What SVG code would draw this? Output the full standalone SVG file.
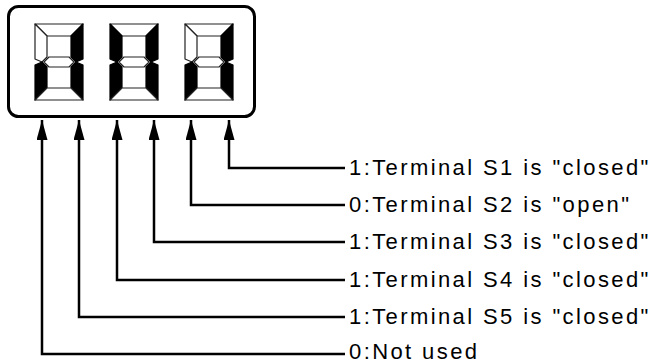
<svg xmlns="http://www.w3.org/2000/svg" width="657" height="364" viewBox="0 0 657 364">
<style>
.box{fill:#fff;stroke:#000;stroke-width:3}
.off{fill:#fff;stroke:#222;stroke-width:1.2;stroke-linejoin:round}
.on{fill:#000;stroke:#000;stroke-width:1.2;stroke-linejoin:round}
.wire{fill:none;stroke:#000;stroke-width:2.5}
.lbl{font-family:"Liberation Sans",Arial,sans-serif;font-size:22px;letter-spacing:2.4px;fill:#000}
</style>
<defs>
<marker id="ah" viewBox="0 0 20 11" refX="20" refY="5.5" markerWidth="20" markerHeight="11" markerUnits="userSpaceOnUse" orient="auto">
<path d="M0,0 L20,5.5 L0,11 z" fill="#000"/>
</marker>
</defs>
<rect width="657" height="364" fill="#fff"/>
<g id="display">
<rect class="box" x="8.5" y="6.5" width="246" height="110" rx="10"/>
<g id="digit1" transform="translate(35,24)">
<polygon class="off" points="0,0 48,0 36,12 12,12"/>
<polygon class="off" points="0,0 12,12 12,33 7,38 0,35"/>
<polygon class="on" points="48,0 48,35 41,38 36,33 36,12"/>
<polygon class="off" points="9,38 14,33 34,33 39,38 34,43 14,43"/>
<polygon class="on" points="0,41 7,38 12,43 12,64 0,76"/>
<polygon class="on" points="48,41 48,76 36,64 36,43 41,38"/>
<polygon class="off" points="0,76 12,64 36,64 48,76"/>
</g>
<g id="digit2" transform="translate(110,24)">
<polygon class="off" points="0,0 48,0 36,12 12,12"/>
<polygon class="on" points="0,0 12,12 12,33 7,38 0,35"/>
<polygon class="on" points="48,0 48,35 41,38 36,33 36,12"/>
<polygon class="off" points="9,38 14,33 34,33 39,38 34,43 14,43"/>
<polygon class="on" points="0,41 7,38 12,43 12,64 0,76"/>
<polygon class="on" points="48,41 48,76 36,64 36,43 41,38"/>
<polygon class="off" points="0,76 12,64 36,64 48,76"/>
</g>
<g id="digit3" transform="translate(185,24)">
<polygon class="off" points="0,0 48,0 36,12 12,12"/>
<polygon class="off" points="0,0 12,12 12,33 7,38 0,35"/>
<polygon class="on" points="48,0 48,35 41,38 36,33 36,12"/>
<polygon class="off" points="9,38 14,33 34,33 39,38 34,43 14,43"/>
<polygon class="on" points="0,41 7,38 12,43 12,64 0,76"/>
<polygon class="on" points="48,41 48,76 36,64 36,43 41,38"/>
<polygon class="off" points="0,76 12,64 36,64 48,76"/>
</g>
</g>
<g id="connectors">
<path class="wire" d="M345,168 H229 V120" marker-end="url(#ah)"/>
<path class="wire" d="M345,205 H191 V120" marker-end="url(#ah)"/>
<path class="wire" d="M345,242 H154 V120" marker-end="url(#ah)"/>
<path class="wire" d="M345,280 H117 V120" marker-end="url(#ah)"/>
<path class="wire" d="M345,317 H79 V120" marker-end="url(#ah)"/>
<path class="wire" d="M345,354 H42 V120" marker-end="url(#ah)"/>
</g>
<g id="labels">
<text id="s1" class="lbl" x="349" y="175">1:Terminal S1 is "closed"</text>
<text id="s2" class="lbl" x="349" y="212">0:Terminal S2 is "open"</text>
<text id="s3" class="lbl" x="349" y="249">1:Terminal S3 is "closed"</text>
<text id="s4" class="lbl" x="349" y="287">1:Terminal S4 is "closed"</text>
<text id="s5" class="lbl" x="349" y="324">1:Terminal S5 is "closed"</text>
<text id="s6" class="lbl" x="349" y="359">0:Not used</text>
</g>
</svg>
